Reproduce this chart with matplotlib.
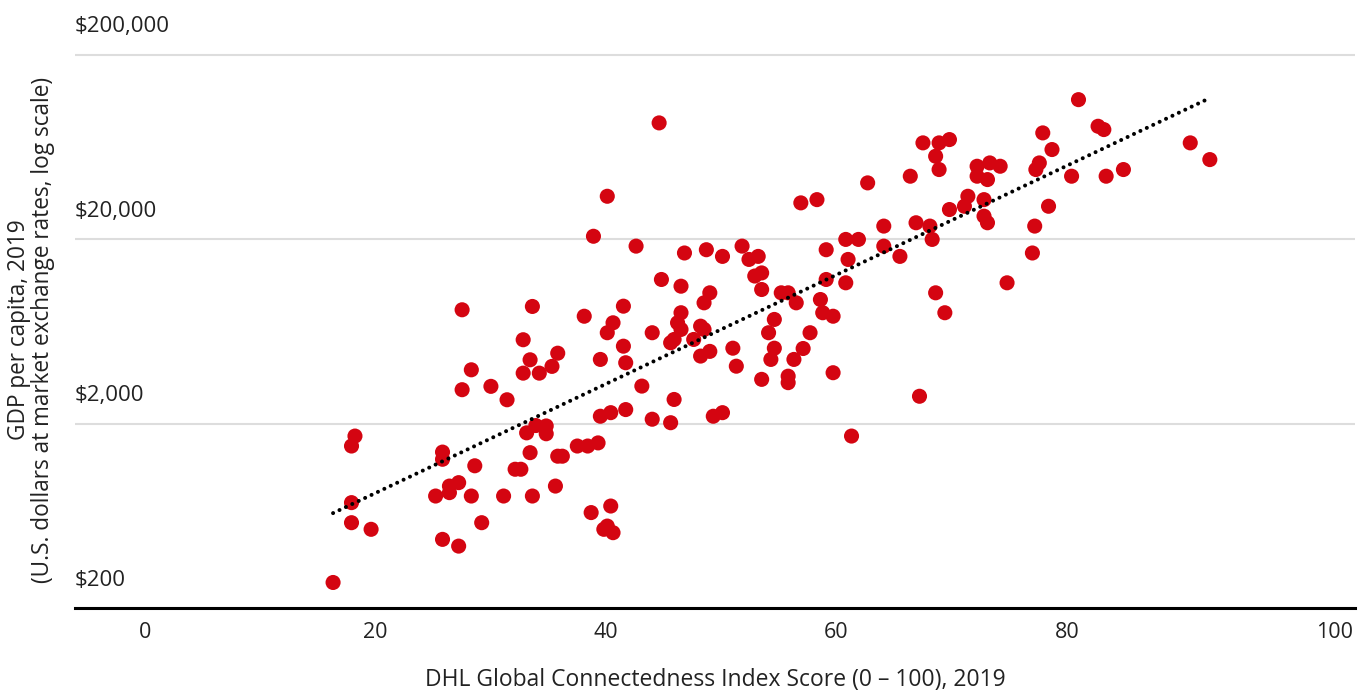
import numpy as np
import matplotlib
matplotlib.use("Agg")
import matplotlib.pyplot as plt
from matplotlib.transforms import ScaledTranslation

plt.rcParams['font.family'] = ['Open Sans', 'DejaVu Sans']

# DHL Global Connectedness Index score (x) and GDP per capita in US$ (y), 2019
gci_score = [
    27.5, 33.6, 32.8, 35.8, 33.4, 35.3, 32.8, 34.2, 28.3, 27.5,
    30.0, 31.4, 18.2, 17.9, 33.9, 34.8, 33.1, 34.8, 25.8, 25.8,
    33.4, 35.8, 28.6, 32.1, 32.6, 17.9, 25.2, 26.4, 27.2, 26.4,
    28.3, 31.1, 33.6, 35.6, 17.9, 19.6, 29.2, 25.8, 27.2, 16.3,
    44.6, 40.1, 38.9, 42.6, 46.8, 48.7, 50.1, 51.8, 52.4, 53.2,
    52.9, 53.5, 53.5, 56.9, 44.8, 46.5, 49.0, 48.5, 55.2, 55.8,
    56.5, 38.1, 41.5, 40.6, 40.1, 44.0, 46.5, 46.2, 46.5, 48.2,
    48.5, 45.9, 45.6, 47.6, 54.6, 54.1, 41.5, 49.0, 51.0, 54.6,
    39.5, 41.7, 48.2, 51.3, 54.3, 56.3, 53.5, 55.8, 55.8, 43.1,
    45.9, 39.5, 40.4, 41.7, 44.0, 45.6, 49.3, 50.1, 37.5, 38.4,
    39.3, 36.2, 38.7, 40.4, 39.8, 40.1, 40.6, 57.1,
    67.5, 68.9, 69.8, 68.6, 68.9, 62.7, 66.4, 72.2, 73.3, 74.2,
    72.2, 73.1, 58.3, 71.4, 71.1, 72.8, 69.8, 72.8, 73.1, 64.1,
    66.9, 68.1, 68.3, 60.8, 61.9, 64.1, 59.1, 61.0, 65.5, 59.1,
    60.8, 58.6, 58.8, 59.7, 68.6, 74.8, 69.4, 57.7, 59.7, 67.2,
    61.3, 81.0, 77.9, 78.7, 82.7, 83.2, 77.6, 77.3, 80.4, 83.4,
    84.9, 90.7, 92.4, 78.4, 77.2, 77.0,
]
gdp_per_capita = [
    8270, 8620, 5690, 4810, 4430, 4080, 3750, 3750, 3910, 3050,
    3180, 2690, 1710, 1510, 1950, 1940, 1780, 1760, 1400, 1280,
    1390, 1330, 1180, 1130, 1130, 745, 809, 916, 956, 844,
    809, 809, 809, 916, 580, 534, 580, 471, 433, 275,
    85200, 34100, 20700, 18300, 16800, 17500, 16100, 18300, 15500, 16100,
    12600, 13100, 10650, 31400, 12070, 11100, 10220, 9020, 10220, 10220,
    9020, 7630, 8650, 7030, 6210, 6210, 7970, 7030, 6470, 6740,
    6470, 5710, 5480, 5710, 7330, 6210, 5250, 4920, 5120, 5120,
    4450, 4270, 4640, 4090, 4450, 4450, 3470, 3610, 3330, 3190,
    2700, 2190, 2290, 2380, 2110, 2020, 2190, 2290, 1510, 1510,
    1570, 1330, 658, 714, 534, 556, 512, 5100,
    66400, 66400, 69200, 56200, 47600, 40300, 43800, 49600, 51700, 49600,
    43800, 42000, 32700, 34100, 30100, 32700, 28900, 26600, 24500, 23500,
    24500, 23500, 19900, 19900, 19900, 18300, 17500, 15500, 16100, 12070,
    11580, 9400, 7970, 7630, 10220, 11580, 7970, 6210, 3770, 2810,
    1710, 113900, 75200, 61100, 81700, 78400, 51700, 47600, 43800, 43800,
    47600, 66400, 53900, 30100, 23500, 16800,
]

x_ticks = [0, 20, 40, 60, 80, 100]
y_ticks = [200, 2000, 20000, 200000]
y_tick_labels = ['$200', '$2,000', '$20,000', '$200,000']

x = np.array(gci_score)
y = np.array(gdp_per_capita)

# log-linear trend line
b, a = np.polyfit(x, np.log10(y), 1)
xt = np.array([x.min(), x.max()])
yt = 10 ** (a + b * xt)

fig = plt.figure(figsize=(13.7, 6.91), dpi=100)
ax = fig.add_axes([75 / 1370, 83 / 691, 1280 / 1370, 608 / 691])

ax.scatter(x, y, s=118, color='#d40511', edgecolors='none', zorder=3)
ax.plot(xt, yt, color='black', lw=2.9, linestyle=(0, (0.01, 1.75)),
        dash_capstyle='round', zorder=4)

ax.set_yscale('log')
ax.set_xlim(-6.1, 105)
ax.set_ylim(200, 395000)

ax.set_yticks(y_ticks)
ax.yaxis.set_minor_locator(plt.NullLocator())
ax.set_yticklabels([])
ax.tick_params(axis='y', length=0)
ax.grid(axis='y', color='#dddddd', lw=1.5)
ax.set_axisbelow(True)
for v, lab in zip(y_ticks, y_tick_labels):
    ax.annotate(lab, xy=(0, v), xycoords=('axes fraction', 'data'),
                xytext=(0, 16), textcoords='offset points',
                ha='left', va='baseline', fontsize=16, color='#222222')

ax.set_xticks(x_ticks)
ax.set_xticklabels([str(t) for t in x_ticks])
ax.tick_params(axis='x', length=0, pad=10, labelsize=15.5, labelcolor='#222222')
# last label sits at the right end of the axis in the original
last = ax.get_xticklabels()[-1]
last.set_transform(last.get_transform() + ScaledTranslation(0.375, 0, fig.dpi_scale_trans))

for s in ['top', 'right', 'left']:
    ax.spines[s].set_visible(False)
ax.spines['bottom'].set_linewidth(2.2)
ax.spines['bottom'].set_color('black')

ax.set_xlabel('DHL Global Connectedness Index Score (0 – 100), 2019',
              fontsize=16.5, color='#222222', labelpad=18)
fig.text(31 / 1370, 1 - 330 / 691,
         'GDP per capita, 2019\n(U.S. dollars at market exchange rates, log scale)',
         rotation=90, ha='center', va='center', multialignment='center',
         fontsize=16.3, color='#222222', linespacing=1.05)

fig.savefig('out.png', dpi=100)
